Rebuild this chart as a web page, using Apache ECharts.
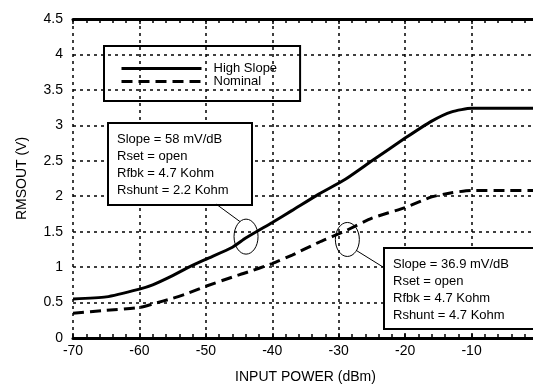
<!DOCTYPE html>
<html>
<head>
<meta charset="utf-8">
<script src="https://cdn.jsdelivr.net/npm/echarts@6/dist/echarts.min.js"></script>
<style>
  html, body { margin: 0; background: #fff; }
  #chart { width: 533px; height: 387px; }
</style>
</head>
<body>
<div id="chart"></div>
<script>
// input power (dBm) sample points
const inputPower = [-70, -65, -60, -58, -55, -53, -50, -46, -44, -40, -37, -33, -29, -25, -20, -16, -13, -10, -5, 0];
// RMSOUT (V)
const highSlope = [0.55, 0.58, 0.69, 0.75, 0.88, 0.98, 1.11, 1.28, 1.41, 1.63, 1.8, 2.03, 2.24, 2.5, 2.82, 3.06, 3.19, 3.24, 3.24, 3.24];
const nominal = [0.35, 0.39, 0.43, 0.48, 0.56, 0.62, 0.73, 0.86, 0.92, 1.05, 1.17, 1.35, 1.51, 1.69, 1.84, 1.99, 2.05, 2.08, 2.08, 2.08];

const xTicks = { min: -70, max: 0, step: 10 };
const yTicks = { min: 0, max: 4.5, step: 0.5 };

const noteHigh = ["Slope = 58 mV/dB", "Rset = open", "Rfbk = 4.7 Kohm", "Rshunt = 2.2 Kohm"];
const noteNominal = ["Slope = 36.9 mV/dB", "Rset = open", "Rfbk = 4.7 Kohm", "Rshunt = 4.7 Kohm"];
// where each note points to (data coords)
const markHigh = [-43.95, 1.43];
const markNominal = [-28.7, 1.39];

const FONT = "'Liberation Sans', Arial, sans-serif";

const toPairs = (ys) => inputPower.map((x, i) => [x, ys[i]]);

const myChart = echarts.init(document.getElementById("chart"));

const gridLine = { show: true, lineStyle: { color: "#000", type: [3, 4], width: 1.5 } };

const option = {
  animation: false,
  grid: { left: 73, right: -5, top: 19, bottom: 49, outerBoundsMode: "none", containLabel: false },
  legend: {
    orient: "vertical",
    left: 104,
    top: 46,
    padding: [16, 23, 13, 16],
    borderColor: "#000",
    borderWidth: 2,
    itemWidth: 80,
    itemHeight: 14,
    itemGap: 0,
    itemStyle: { opacity: 0 },
    lineStyle: { width: 3 },
    textStyle: { color: "#000", fontSize: 13, fontFamily: FONT, lineHeight: 13, padding: [0, 0, 0, 7] },
    data: ["High Slope", "Nominal"]
  },
  xAxis: [
    {
      type: "value",
      min: xTicks.min,
      max: xTicks.max,
      interval: xTicks.step,
      name: "INPUT POWER (dBm)",
      nameLocation: "middle",
      nameGap: 32,
      nameTextStyle: { color: "#000", fontSize: 14, fontFamily: FONT },
      axisLine: { lineStyle: { color: "#000", width: 3 } },
      axisTick: { inside: true, length: 5, lineStyle: { color: "#000", width: 1.5 } },
      minorTick: { show: true, splitNumber: 5, length: 4, lineStyle: { color: "#000", width: 1.5 } },
      axisLabel: { color: "#000", fontSize: 14, fontFamily: FONT, margin: 6 },
      splitLine: gridLine
    },
    {
      type: "value",
      position: "top",
      min: xTicks.min,
      max: xTicks.max,
      interval: xTicks.step,
      axisLine: { lineStyle: { color: "#000", width: 3 } },
      axisTick: { inside: true, length: 5, lineStyle: { color: "#000", width: 1.5 } },
      minorTick: { show: true, splitNumber: 5, length: 4, lineStyle: { color: "#000", width: 1.5 } },
      axisLabel: { show: false },
      splitLine: { show: false }
    }
  ],
  yAxis: {
    type: "value",
    min: yTicks.min,
    max: yTicks.max,
    interval: yTicks.step,
    name: "RMSOUT (V)",
    nameLocation: "middle",
    nameGap: 44,
    nameTextStyle: { color: "#000", fontSize: 14, fontFamily: FONT },
    axisLine: { show: true, lineStyle: { color: "#000", width: 3 } },
    axisTick: { show: true, inside: true, length: 5, lineStyle: { color: "#000", width: 1.5 } },
    minorTick: { show: true, splitNumber: 2, length: 4, lineStyle: { color: "#000", width: 1.5 } },
    axisLabel: {
      color: "#000",
      fontSize: 14,
      fontFamily: FONT,
      margin: 10,
      formatter: (v) => String(v)
    },
    splitLine: gridLine
  },
  series: [
    {
      name: "High Slope",
      type: "line",
      data: toPairs(highSlope),
      symbol: "none",
      smooth: 0.2,
      lineStyle: { color: "#000", width: 3 },
      itemStyle: { color: "#000" },
      z: 5
    },
    {
      name: "Nominal",
      type: "line",
      data: toPairs(nominal),
      symbol: "none",
      smooth: 0.2,
      lineStyle: { color: "#000", width: 3, type: [11, 6] },
      itemStyle: { color: "#000" },
      z: 5
    }
  ]
};

myChart.setOption(option);

// annotations: boxed notes, ellipses around the curves and leader lines
function noteBox(lines, x, y, w, h) {
  return {
    type: "group",
    left: x,
    top: y,
    z: 20,
    children: [
      { type: "rect", shape: { x: 0, y: 0, width: w, height: h }, style: { fill: "#fff", stroke: "#000", lineWidth: 2 } },
      {
        type: "text",
        x: 9,
        y: 8,
        style: { text: lines.join("\n"), fill: "#000", font: "13px " + FONT, lineHeight: 17 }
      }
    ]
  };
}

const p1 = myChart.convertToPixel({ gridIndex: 0 }, markHigh);
const p2 = myChart.convertToPixel({ gridIndex: 0 }, markNominal);

myChart.setOption({
  graphic: [
    noteBox(noteHigh, 107, 122, 144, 82),
    noteBox(noteNominal, 383, 247, 160, 81),
    { type: "ellipse", shape: { cx: p1[0], cy: p1[1], rx: 12, ry: 17.5 }, style: { fill: "none", stroke: "#000", lineWidth: 1 }, z: 20 },
    { type: "ellipse", shape: { cx: p2[0], cy: p2[1], rx: 12, ry: 17 }, style: { fill: "none", stroke: "#000", lineWidth: 1 }, z: 20 },
    { type: "line", shape: { x1: 216, y1: 204, x2: p1[0] - 6, y2: p1[1] - 15 }, style: { stroke: "#000", lineWidth: 1 }, z: 20 },
    { type: "line", shape: { x1: p2[0] + 9, y1: p2[1] + 11, x2: 383, y2: 267 }, style: { stroke: "#000", lineWidth: 1 }, z: 20 }
  ]
});
</script>
</body>
</html>
